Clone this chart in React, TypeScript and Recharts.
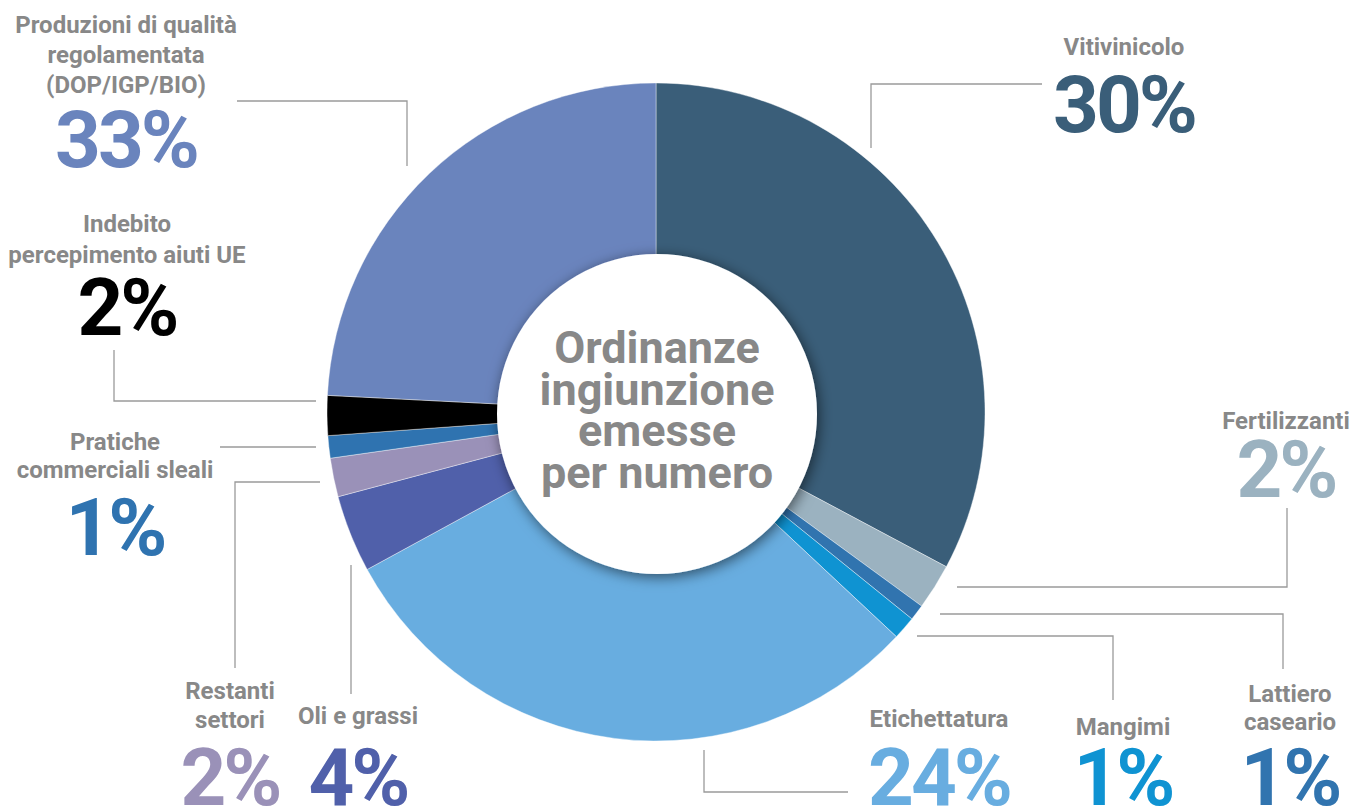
import { PieChart, Pie, Cell } from 'recharts';

// slice sizes as drawn in the picture (share of the circle, %)
const categories = [
  'Vitivinicolo',
  'Fertilizzanti',
  'Lattiero caseario',
  'Mangimi',
  'Etichettatura',
  'Oli e grassi',
  'Restanti settori',
  'Pratiche commerciali sleali',
  'Indebito percepimento aiuti UE',
  'Produzioni di qualità regolamentata (DOP/IGP/BIO)',
];
const sliceValues = [32.8, 2.25, 0.78, 1.14, 30.1, 3.8, 1.9, 1.1, 1.95, 24.2];
// percentages printed next to each slice
const percentLabels = ['30%', '2%', '1%', '1%', '24%', '4%', '2%', '1%', '2%', '33%'];
// name text as broken over lines in the picture
const nameLines = [
  ['Vitivinicolo'],
  ['Fertilizzanti'],
  ['Lattiero', 'caseario'],
  ['Mangimi'],
  ['Etichettatura'],
  ['Oli e grassi'],
  ['Restanti', 'settori'],
  ['Pratiche', 'commerciali sleali'],
  ['Indebito', 'percepimento aiuti UE'],
  ['Produzioni di qualità', 'regolamentata', '(DOP/IGP/BIO)'],
];
const centerTitle = ['Ordinanze', 'ingiunzione', 'emesse', 'per numero'];

const colors = [
  '#3a5e79', '#9bb2c0', '#3174af', '#0f93d2', '#68ade0',
  '#5060aa', '#9a91b8', '#2f73b0', '#000000', '#6a84bd',
];

// label placement: name x, name baselines, percent baseline, leader polyline
const labelLayout = [
  { x: 1124, ys: [55], py: 132, line: [[871, 148], [871, 84], [1042, 84]] },
  { x: 1286, ys: [429], py: 497, line: [[957, 587], [1287, 587], [1287, 508]] },
  { x: 1290, ys: [702, 730], py: 805, line: [[940, 614], [1283, 614], [1283, 669]] },
  { x: 1123, ys: [735], py: 805, line: [[917, 636], [1113, 636], [1113, 700]] },
  { x: 939, ys: [727], py: 805, line: [[704, 750], [704, 792], [848, 792]] },
  { x: 358, ys: [724], py: 805, line: [[351, 565], [351, 694]] },
  { x: 230, ys: [699, 728], py: 805, line: [[320, 482], [235, 482], [235, 668]] },
  { x: 115, ys: [450, 478], py: 555, line: [[316, 447], [220, 447]] },
  { x: 127, ys: [232, 263], py: 335, line: [[316, 401], [114, 401], [114, 350]] },
  { x: 126, ys: [33, 63, 93], py: 167, line: [[237, 101], [407, 101], [407, 166]] },
];

const data = categories.map((name, i) => ({ name, value: sliceValues[i] }));
const FONT = 'Roboto, "Noto Sans", sans-serif';

function SliceLabel(props: any) {
  const i = props.index;
  const lay = labelLayout[i];
  if (!lay) return null;
  return (
    <g>
      <polyline
        points={lay.line.map((p) => p.join(',')).join(' ')}
        fill="none"
        stroke="#9a9a9a"
        strokeWidth={1.3}
      />
      {nameLines[i].map((t, k) => (
        <text
          key={k}
          x={lay.x}
          y={lay.ys[k]}
          textAnchor="middle"
          fontFamily={FONT}
          fontWeight={700}
          fontSize={24}
          fill="#888888"
        >
          {t}
        </text>
      ))}
      <text
        x={lay.x}
        y={lay.py}
        textAnchor="middle"
        fontFamily={FONT}
        fontWeight={700}
        fontSize={80}
        letterSpacing={-3}
        fill={colors[i]}
      >
        {percentLabels[i]}
      </text>
    </g>
  );
}

function CenterLabel(props: any) {
  const { cx, cy } = props;
  return (
    <g>
      {centerTitle.map((t, k) => (
        <text
          key={k}
          x={cx}
          y={cy - 51 + k * 41.7}
          textAnchor="middle"
          fontFamily={FONT}
          fontWeight={700}
          fontSize={45}
          fill="#888888"
        >
          {t}
        </text>
      ))}
    </g>
  );
}

export default function App() {
  return (
    <div style={{ position: 'absolute', left: 0, top: 0, width: 1355, height: 808, background: '#fff' }}>
      <PieChart width={1355} height={808} margin={{ top: 0, right: 0, bottom: 0, left: 0 }}>
        <defs>
          <filter id="holeShadow" x="-20%" y="-20%" width="140%" height="140%">
            <feDropShadow dx="2" dy="3" stdDeviation="7" floodColor="#000" floodOpacity="0.55" />
          </filter>
        </defs>
        <Pie
          data={data}
          dataKey="value"
          cx={656}
          cy={412}
          innerRadius={0}
          outerRadius={329}
          startAngle={90}
          endAngle={-270}
          stroke="#ffffff"
          strokeWidth={0.4}
          label={SliceLabel}
          labelLine={false}
          isAnimationActive={false}
        >
          {data.map((d, i) => (
            <Cell key={d.name} fill={colors[i]} />
          ))}
        </Pie>
        <Pie
          data={[{ name: 'hole', value: 1 }]}
          dataKey="value"
          cx={657}
          cy={414}
          innerRadius={0}
          outerRadius={160}
          fill="#ffffff"
          stroke="none"
          style={{ filter: 'url(#holeShadow)' }}
          label={CenterLabel}
          labelLine={false}
          isAnimationActive={false}
        />
      </PieChart>
    </div>
  );
}
